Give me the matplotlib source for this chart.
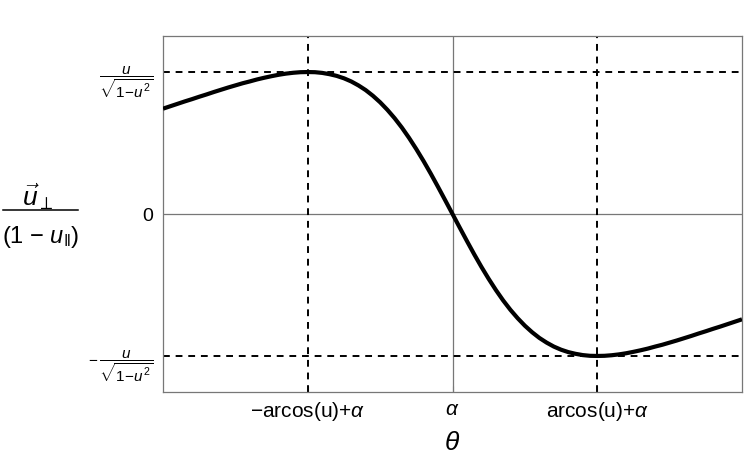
import matplotlib
matplotlib.use('Agg')
import matplotlib.pyplot as plt
from matplotlib.lines import Line2D

# ── 数据（横轴以 arcos(u) 为单位，α 处为 0；纵轴以 u/sqrt(1-u^2) 为单位）──
theta = [-2.0, -1.95, -1.9, -1.85, -1.8, -1.75, -1.7, -1.65, -1.6, -1.55,
         -1.5, -1.45, -1.4, -1.35, -1.3, -1.25, -1.2, -1.15, -1.1, -1.05,
         -1.0, -0.95, -0.9, -0.85, -0.8, -0.75, -0.7, -0.65, -0.6, -0.55,
         -0.5, -0.45, -0.4, -0.35, -0.3, -0.25, -0.2, -0.15, -0.1, -0.05,
         0.0, 0.05, 0.1, 0.15, 0.2, 0.25, 0.3, 0.35, 0.4, 0.45,
         0.5, 0.55, 0.6, 0.65, 0.7, 0.75, 0.8, 0.85, 0.9, 0.95,
         1.0, 1.05, 1.1, 1.15, 1.2, 1.25, 1.3, 1.35, 1.4, 1.45,
         1.5, 1.55, 1.6, 1.65, 1.7, 1.75, 1.8, 1.85, 1.9, 1.95, 2.0]
ratio = [0.742, 0.759, 0.776, 0.793, 0.809, 0.826, 0.842, 0.859, 0.875, 0.891,
         0.906, 0.921, 0.934, 0.948, 0.960, 0.971, 0.981, 0.989, 0.995, 0.999,
         1.000, 0.999, 0.994, 0.985, 0.973, 0.956, 0.934, 0.906, 0.873, 0.833,
         0.787, 0.734, 0.675, 0.609, 0.536, 0.457, 0.373, 0.284, 0.191, 0.096,
         0.0, -0.096, -0.191, -0.284, -0.373, -0.457, -0.536, -0.609, -0.675, -0.734,
         -0.787, -0.833, -0.873, -0.906, -0.934, -0.956, -0.973, -0.985, -0.994, -0.999,
         -1.000, -0.999, -0.995, -0.989, -0.981, -0.971, -0.960, -0.948, -0.934, -0.921,
         -0.906, -0.891, -0.875, -0.859, -0.842, -0.826, -0.809, -0.793, -0.776, -0.759, -0.742]

x_ticks = [-1, 0, 1]
x_labels = [r"$-$arcos(u)+$\alpha$", r"$\alpha$", r"arcos(u)+$\alpha$"]
y_ticks = [-1, 0, 1]
y_labels = [r"$-\,\dfrac{u}{\sqrt{1\!-\!u^2}}$", "0", r"$\dfrac{u}{\sqrt{1\!-\!u^2}}$"]
extremes = [-1, 1]

plt.rcParams['font.family'] = ['Liberation Sans', 'DejaVu Sans']
plt.rcParams['mathtext.fontset'] = 'custom'
plt.rcParams['mathtext.rm'] = 'Liberation Sans'
plt.rcParams['mathtext.it'] = 'Liberation Sans:italic'

W, H = 751, 464
fig = plt.figure(figsize=(W / 100, H / 100), dpi=100)
ax = fig.add_axes([163 / W, 71 / H, 579 / W, 356 / H])

ax.axhline(0, color='#777777', lw=0.9, zorder=1)
ax.axvline(0, color='#777777', lw=0.9, zorder=1)
for v in extremes:
    ax.axhline(v, color='black', lw=1.4, ls=(0, (3.5, 3)), zorder=2)
    ax.axvline(v, color='black', lw=1.4, ls=(0, (3.5, 3)), zorder=2)

ax.plot(theta, ratio, color='black', lw=3, solid_joinstyle='round',
        solid_capstyle='butt', zorder=3)

ax.set_xlim(-2, 2)
ax.set_ylim(-1.254, 1.254)
for s in ax.spines.values():
    s.set_color('#777777')
    s.set_linewidth(0.9)

ax.set_xticks(x_ticks)
ax.set_xticklabels(x_labels, fontsize=15)
ax.set_yticks(y_ticks)
ax.set_yticklabels(y_labels, fontsize=11)
ax.tick_params(axis='x', direction='in', length=4, pad=5, color='#777777')
ax.tick_params(axis='y', length=0, pad=7)
ax.yaxis.get_ticklabels()[1].set_fontsize(14)

ax.set_xlabel(r"$\theta$", fontsize=19, labelpad=6)

# 纵轴标签：分子、分数线、分母分开画
fig.text(38 / W, 1 - 197 / H, r"$\vec{u}_{\perp}$", fontsize=19,
         ha='center', va='center')
fig.add_artist(Line2D([3 / W, 78 / W], [1 - 210.5 / H, 1 - 210.5 / H],
                      color='black', lw=1.1))
fig.text(41 / W, 1 - 237 / H, r"(1 $-$ $u_{\Vert}$)", fontsize=17,
         ha='center', va='center')

fig.savefig('out.png', dpi=100)
